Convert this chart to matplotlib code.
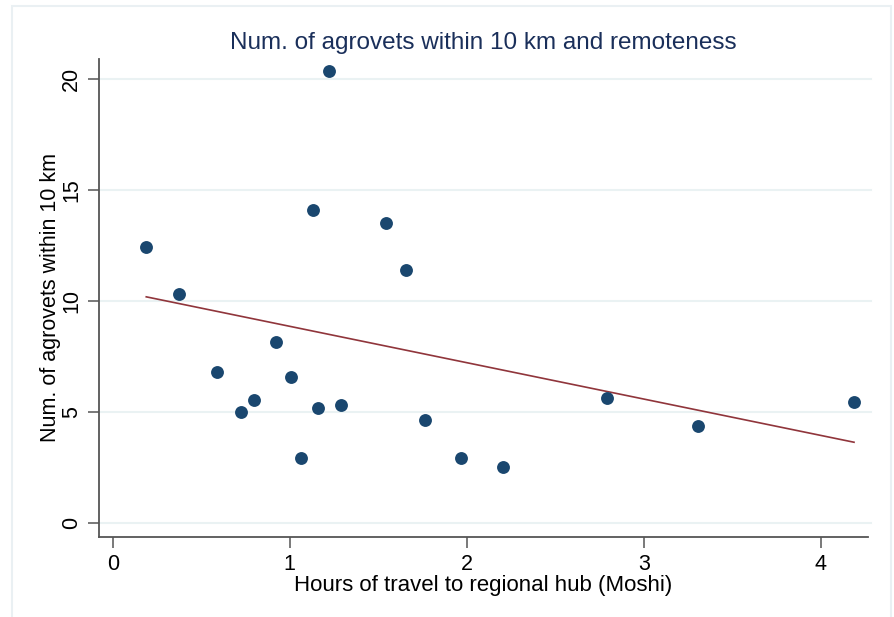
import numpy as np
import matplotlib
matplotlib.use("Agg")
import matplotlib.pyplot as plt
from matplotlib.patches import Rectangle

plt.rcParams['font.family'] = ['Liberation Sans', 'DejaVu Sans']

# horas de viaje al centro regional (Moshi) y número de agroveterinarias a 10 km
hours = [0.189, 0.372, 0.590, 0.724, 0.800, 0.922, 1.005, 1.063, 1.129, 1.159,
         1.221, 1.289, 1.545, 1.657, 1.766, 1.967, 2.204, 2.792, 3.306, 4.188]
agrovets = [12.44, 10.33, 6.80, 4.98, 5.55, 8.16, 6.56, 2.92, 14.12, 5.17,
            20.37, 5.30, 13.50, 11.41, 4.62, 2.92, 2.52, 5.62, 4.36, 5.44]

# valores de la recta ajustada en los extremos
fit_hours = [0.189, 4.188]
fit_agrovets = [10.19, 3.63]

x_ticks = [0, 1, 2, 3, 4]
y_ticks = [0, 5, 10, 15, 20]

title = "Num. of agrovets within 10 km and remoteness"
x_label = "Hours of travel to regional hub (Moshi)"
y_label = "Num. of agrovets within 10 km"

fig = plt.figure(figsize=(8.94, 6.17), dpi=100)
fig.patch.set_facecolor("white")

# marco exterior del gráfico
fig.patches.append(Rectangle((12 / 894, -0.05), 879 / 894, 1.05 - 6 / 617,
                             transform=fig.transFigure, fill=False,
                             edgecolor="#eaf0f3", linewidth=1.5))

ax = fig.add_axes([99 / 894, 1 - 537 / 617, (868 - 99) / 894, (537 - 59) / 617])

ax.scatter(hours, agrovets, s=86, color="#1a476f", zorder=3, linewidths=0)

# recta de ajuste lineal
ax.plot(fit_hours, fit_agrovets, color="#90353b", linewidth=1.2, zorder=2)

ax.set_xlim(-0.078, 4.267)
ax.set_ylim(-0.645, 20.92)
ax.set_xticks(x_ticks)
ax.set_yticks(y_ticks)

for yv in y_ticks:
    ax.axhline(yv, xmin=0, xmax=1.004, color="#eaf2f3", linewidth=1.5,
               zorder=1, clip_on=False)

for s in ["top", "right"]:
    ax.spines[s].set_visible(False)
for s in ["left", "bottom"]:
    ax.spines[s].set_color("#555555")
    ax.spines[s].set_linewidth(1.3)

ax.tick_params(axis="both", length=8, width=1.1, color="#555555",
               labelsize=15.5, labelcolor="black")
ax.tick_params(axis="x", pad=4)
ax.tick_params(axis="y", pad=4)
plt.setp(ax.get_yticklabels(), rotation=90, va="center")

ax.set_title(title, fontsize=17.5, color="#1a2f5a", pad=7)
ax.set_xlabel(x_label, fontsize=16, labelpad=0)
ax.set_ylabel(y_label, fontsize=15.5, labelpad=0)

fig.savefig("out.png", dpi=100, facecolor="white")
